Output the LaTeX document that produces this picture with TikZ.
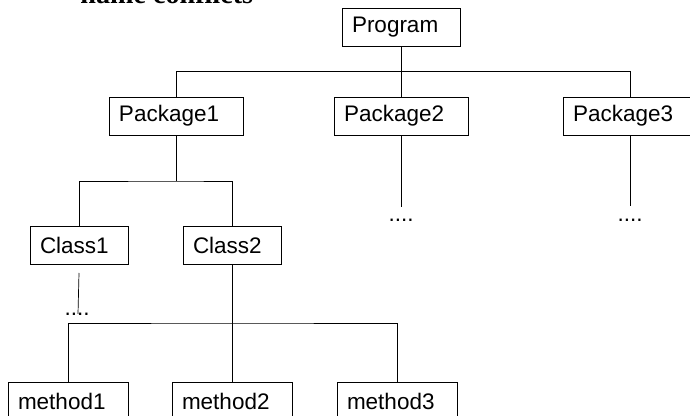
\documentclass[tikz,border=0pt]{standalone}
\usepackage{fontspec}
\setmainfont{Liberation Sans}
\newfontfamily\titlefont{Liberation Serif}
\usepackage{tikz}

\begin{document}
\begin{tikzpicture}[
        line width=0.7pt,
        box/.style={
            draw,
            minimum height=0.95cm,
            inner xsep=0.25cm,
            align=left,
            font=\fontsize{16}{19}\selectfont
        },
        dots/.style={
            inner sep=0pt,
            anchor=base,
            font=\fontsize{16}{19}\selectfont
        }
    ]
        \useasboundingbox (0,0) rectangle (17.25,-10.4);
        \clip (0,0) rectangle (17.25,-10.4);

        % Heading (cut by the page edge)
        \node[anchor=base west, inner sep=0pt, font=\titlefont\bfseries\fontsize{20}{24}\selectfont]
            (heading) at (2.0,-0.08) {name conflicts};

        % Root
        \node[box, text width=2.45cm] (prog) at (10.025,-0.6875) {Program};

        % Packages
        \node[box, text width=2.85cm] (pkg1) at (4.4,-2.9) {Package1};
        \node[box, text width=2.85cm] (pkg2) at (10.025,-2.9) {Package2};
        \node[box, text width=2.85cm] (pkg3) at (15.75,-2.9) {Package3};

        % Classes
        \node[box, text width=1.95cm] (cls1) at (1.975,-6.125) {Class1};
        \node[box, text width=1.95cm] (cls2) at (5.8,-6.125) {Class2};

        % Methods
        \node[box, text width=2.5cm] (m1) at (1.7,-10.025) {method1};
        \node[box, text width=2.5cm] (m2) at (5.8,-10.025) {method2};
        \node[box, text width=2.5cm] (m3) at (9.925,-10.025) {method3};

        % Bus lines
        \coordinate (topbus) at (10.025,-1.7875);
        \coordinate (pkgbus) at (4.4,-4.525);
        \coordinate (clsbus) at (5.8,-8.075);

        \draw (prog.south) -- (pkg2.north);
        \draw (pkg1.north) |- (topbus) -| (pkg3.north);

        \draw (pkg1.south) -- (pkgbus);
        \draw (cls1.north) |- (pkgbus) -| (cls2.north);

        \draw (cls2.south) -- (m2.north);
        \draw (m1.north) |- (clsbus) -| (m3.north);

        % Open ends
        \node[dots] (pkg2dots) at (10.025,-5.55) {....};
        \node[dots] (pkg3dots) at (15.75,-5.55) {....};
        \node[dots] (cls1dots) at (1.925,-7.9) {....};

        \coordinate (pkg2end) at (10.025,-5.175);
        \coordinate (pkg3end) at (15.75,-5.15);
        \coordinate (cls1top) at (1.975,-6.825);
        \coordinate (cls1end) at (1.95,-7.85);

        \draw[line width=0.5pt] (pkg2.south) -- (pkg2end);
        \draw[line width=0.5pt] (pkg3.south) -- (pkg3end);
        \draw[line width=0.5pt] (cls1top) -- (cls1end);

    \end{tikzpicture}
\end{document}
